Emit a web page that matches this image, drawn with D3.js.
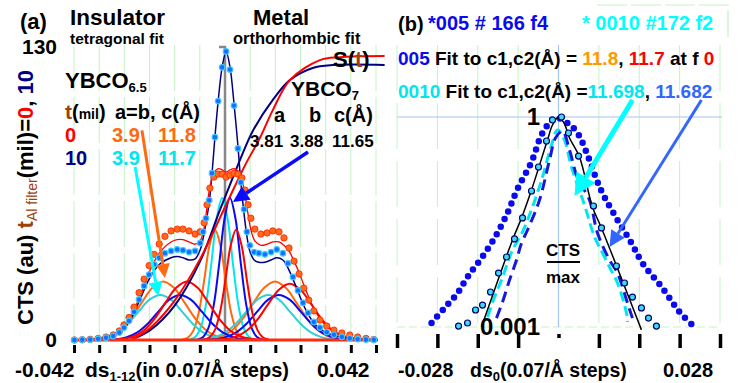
<!DOCTYPE html>
<html><head><meta charset="utf-8">
<script src="https://cdn.jsdelivr.net/npm/d3@7"></script>
<style>html,body{margin:0;padding:0;background:#fff;} svg{display:block;}</style>
</head><body>
<svg id="c" width="739" height="383"></svg>
<script>
// ---------------- DATA: panel (a) ----------------
const xTicksA = [-0.042,-0.035,-0.028,-0.021,-0.014,-0.007,0,0.007,0.014,0.021,0.028,0.035,0.042];
const yTickLabelsA = [0,130];
// measured points, t = 0 mil (red/orange markers)
const dotsT0 = [[-0.0419,0],[-0.0397,0.1],[-0.0375,0.3],[-0.0353,0.7],[-0.0331,1.3],[-0.0311,2.2],[-0.0294,4],[-0.0281,6.7],[-0.0267,10],[-0.0253,14.6],[-0.0239,21],[-0.0225,27],[-0.0211,33],[-0.0197,38],[-0.0183,42.6],[-0.0167,46],[-0.0150,48.4],[-0.0133,49.2],[-0.0117,49.2],[-0.0100,48.4],[-0.0083,47],[-0.0069,48],[-0.0058,52],[-0.0050,60],[-0.0042,67.4],[-0.0031,72.3],[-0.0019,73.6],[-0.0008,73.6],[0.0003,72.3],[0.0014,73.2],[0.0025,74],[0.0036,73.6],[0.0047,71.9],[0.0056,66.5],[0.0064,60],[0.0072,54],[0.0083,49.2],[0.0100,47],[0.0117,47.5],[0.0133,48.4],[0.0150,48],[0.0164,45.3],[0.0178,40.8],[0.0192,35],[0.0206,29.3],[0.0219,23],[0.0233,17.7],[0.0247,12.9],[0.0264,8.9],[0.0283,6.2],[0.0303,4.4],[0.0325,3.1],[0.0347,2.2],[0.0369,1.3],[0.0392,0.7],[0.0414,0.2]];
const fitT0 = [[-0.0419,0],[-0.0375,0.4],[-0.0331,1.5],[-0.0294,4],[-0.0267,9],[-0.0239,18.5],[-0.0211,30],[-0.0183,38.5],[-0.0150,43.5],[-0.0133,44.5],[-0.0117,44.5],[-0.0100,43.5],[-0.0083,42.5],[-0.0069,44],[-0.0058,50],[-0.0050,59],[-0.0042,68],[-0.0031,74],[-0.0019,76],[-0.0008,75.5],[0.0003,74.5],[0.0014,75.5],[0.0025,76],[0.0036,75],[0.0047,71],[0.0056,64],[0.0064,56],[0.0072,49],[0.0083,44],[0.0100,42],[0.0117,42.5],[0.0133,43.5],[0.0150,43.5],[0.0164,42],[0.0178,39.5],[0.0192,35],[0.0206,30],[0.0219,24.5],[0.0233,19],[0.0247,14],[0.0264,9.5],[0.0283,6],[0.0303,3.8],[0.0325,2.2],[0.0369,0.7],[0.0414,0.1]];
// measured points, t = 10 mil (blue markers)
const dotsT10 = [[-0.0419,0],[-0.0397,0.1],[-0.0375,0.2],[-0.0353,0.5],[-0.0331,1.0],[-0.0311,1.8],[-0.0294,3.3],[-0.0281,5.5],[-0.0267,8.5],[-0.0253,12.5],[-0.0239,18],[-0.0225,24],[-0.0211,29],[-0.0197,33.5],[-0.0183,36.5],[-0.0167,38.5],[-0.0150,39.5],[-0.0133,40.2],[-0.0117,39.8],[-0.0100,39],[-0.0083,39.5],[-0.0069,43],[-0.0061,48],[-0.0053,54],[-0.0044,62],[-0.0036,74],[-0.0028,90],[-0.0019,106],[-0.0008,121],[0.0003,128],[0.0014,120],[0.0025,104],[0.0036,85],[0.0044,70],[0.0053,58],[0.0061,48],[0.0069,42],[0.0081,39],[0.0094,38.5],[0.0111,38],[0.0128,39],[0.0144,40.2],[0.0161,38.5],[0.0175,34],[0.0189,28],[0.0203,22],[0.0217,16.5],[0.0231,12],[0.0247,8],[0.0264,5.5],[0.0283,3.5],[0.0303,2.3],[0.0325,1.4],[0.0347,0.8],[0.0369,0.4],[0.0392,0.2],[0.0414,0.1]];
const fitT10 = [[-0.0419,0],[-0.0375,0.2],[-0.0331,1.0],[-0.0294,3.3],[-0.0267,8],[-0.0239,17],[-0.0211,27],[-0.0183,33.5],[-0.0150,36.5],[-0.0133,37],[-0.0117,36.5],[-0.0100,35.5],[-0.0083,36],[-0.0069,40],[-0.0061,45],[-0.0053,52],[-0.0044,61],[-0.0036,74],[-0.0028,90],[-0.0019,106],[-0.0008,121],[0.0003,128],[0.0014,121],[0.0025,105],[0.0036,86],[0.0044,70],[0.0053,56],[0.0061,46],[0.0069,39.5],[0.0081,35.5],[0.0094,34.5],[0.0111,34.5],[0.0128,35.5],[0.0144,36.5],[0.0161,35.5],[0.0175,32],[0.0189,27],[0.0203,21.5],[0.0217,16],[0.0231,11.5],[0.0247,7.5],[0.0264,5],[0.0283,3.2],[0.0325,1.2],[0.0369,0.3],[0.0414,0.1]];
// S(t) curves
const sT0 = [[-0.0264,0],[-0.0244,1.5],[-0.0208,5.3],[-0.0139,17.7],[-0.0069,36],[0.0006,61],[0.0056,77.6],[0.0097,89.6],[0.0133,102],[0.0181,115.4],[0.0264,124.2],[0.0319,125.5],[0.0444,126]];
const sT10 = [[-0.0264,0],[-0.0208,4.4],[-0.0139,15.5],[-0.0069,35],[-0.0014,57.7],[0.0061,87.2],[0.0078,93],[0.0133,106.5],[0.0181,115.4],[0.0244,120.7],[0.0300,122],[0.0444,122]];
// fit components: tetragonal (orange t=0, cyan t=10), orthorhombic (red t=0, blue t=10)
const orangeL = [[-0.0382,0.1],[-0.0352,0.44],[-0.0322,1.53],[-0.0292,4.24],[-0.0262,9.36],[-0.0232,16.5],[-0.0202,23.2],[-0.0172,26],[-0.0142,23.2],[-0.0112,16.5],[-0.0082,9.36],[-0.0052,4.24],[-0.0022,1.53],[0.0008,0.44],[0.0038,0.1]];
const orangeC = [[-0.0118,0.19],[-0.0103,1.03],[-0.0088,4.15],[-0.0073,12.2],[-0.0058,26.4],[-0.0043,42],[-0.0028,49],[-0.0013,42],[0.0002,26.4],[0.0017,12.2],[0.0032,4.15],[0.0047,1.03],[0.0062,0.19]];
const orangeR = [[-0.0071,0.1],[-0.0041,0.44],[-0.0011,1.53],[0.0019,4.24],[0.0049,9.36],[0.0079,16.5],[0.0109,23.2],[0.0139,26],[0.0169,23.2],[0.0199,16.5],[0.0229,9.36],[0.0259,4.24],[0.0289,1.53],[0.0319,0.44],[0.0349,0.1]];
const redL = [[-0.0316,0.1],[-0.0286,0.44],[-0.0256,1.53],[-0.0226,4.24],[-0.0196,9.36],[-0.0166,16.5],[-0.0136,23.2],[-0.0106,26],[-0.0076,23.2],[-0.0046,16.5],[-0.0016,9.36],[0.0014,4.24],[0.0044,1.53],[0.0074,0.44],[0.0104,0.1]];
const redC = [[-0.0059,0.19],[-0.0044,1.03],[-0.0029,4.15],[-0.0014,12.2],[0.0001,26.4],[0.0016,42],[0.0031,49],[0.0046,42],[0.0061,26.4],[0.0076,12.2],[0.0091,4.15],[0.0106,1.03],[0.0121,0.19]];
const redR = [[-0.003,0.1],[0,0.42],[0.003,1.47],[0.006,4.08],[0.009,9],[0.012,15.9],[0.015,22.3],[0.018,25],[0.021,22.3],[0.024,15.9],[0.027,9],[0.030,4.08],[0.033,1.47],[0.036,0.42],[0.039,0.1]];
const cyanL = [[-0.039,0.08],[-0.036,0.34],[-0.033,1.18],[-0.030,3.26],[-0.027,7.2],[-0.024,12.7],[-0.021,17.9],[-0.018,20],[-0.015,17.9],[-0.012,12.7],[-0.009,7.2],[-0.006,3.26],[-0.003,1.18],[0,0.34],[0.003,0.08]];
const cyanC = [[-0.0098,0.25],[-0.0083,1.33],[-0.0068,5.34],[-0.0053,15.7],[-0.0038,34],[-0.0023,54],[-0.0008,63],[0.0007,54],[0.0022,34],[0.0037,15.7],[0.0052,5.34],[0.0067,1.33],[0.0082,0.25]];
const cyanR = [[-0.009,0.08],[-0.006,0.34],[-0.003,1.18],[0,3.26],[0.003,7.2],[0.006,12.7],[0.009,17.9],[0.012,20],[0.015,17.9],[0.018,12.7],[0.021,7.2],[0.024,3.26],[0.027,1.18],[0.030,0.34],[0.033,0.08]];
const blueL = [[-0.0335,0.08],[-0.0305,0.34],[-0.0275,1.18],[-0.0245,3.26],[-0.0215,7.2],[-0.0185,12.7],[-0.0155,17.9],[-0.0125,20],[-0.0095,17.9],[-0.0065,12.7],[-0.0035,7.2],[-0.0005,3.26],[0.0025,1.18],[0.0055,0.34],[0.0085,0.08]];
const blueC = [[-0.0076,0.25],[-0.0061,1.33],[-0.0046,5.34],[-0.0031,15.7],[-0.0016,34],[-0.0001,54],[0.0014,63],[0.0029,54],[0.0044,34],[0.0059,15.7],[0.0074,5.34],[0.0089,1.33],[0.0104,0.25]];
const blueR = [[-0.006,0.08],[-0.003,0.34],[0,1.18],[0.003,3.26],[0.006,7.2],[0.009,12.7],[0.012,17.9],[0.015,20],[0.018,17.9],[0.021,12.7],[0.024,7.2],[0.027,3.26],[0.030,1.18],[0.033,0.34],[0.036,0.08]];

// ---------------- DATA: panel (b) ----------------
const xTicksB = [-0.028,-0.021,-0.014,-0.007,0,0.007,0.014,0.021,0.028];
const yTickLabelsB = [1,0.001];
const fitBlack = [[-0.01335,0.001],[-0.00797,0.0175],[-0.00641,0.0361],[-0.00468,0.0906],[-0.00191,0.469],[-0.00104,0.769],[0,1],[0.00104,0.794],[0.00191,0.5],[0.00364,0.268],[0.00589,0.0518],[0.00745,0.026],[0.01438,0.00091]];
const circles005 = [[-0.01733,0.00103],[-0.01577,0.00114],[-0.01438,0.00175],[-0.01317,0.00206],[-0.01179,0.00316],[-0.0104,0.0059],[-0.00901,0.01],[-0.00763,0.0181],[-0.00624,0.0361],[-0.00468,0.0877],[-0.00347,0.193],[-0.00208,0.454],[-0.00104,0.906],[0.00052,1.0],[0.00173,0.591],[0.00347,0.277],[0.00607,0.0535],[0.00745,0.026],[0.01005,0.00744],[0.01144,0.00425],[0.01282,0.00268],[0.01438,0.00187],[0.0156,0.00134],[0.01698,0.00103]];
const dotted005 = [[-0.02201,0.00114],[-0.01976,0.00187],[-0.0175,0.00306],[-0.01577,0.00518],[-0.01335,0.00968],[-0.01109,0.0187],[-0.00901,0.0398],[-0.00711,0.0936],[-0.00468,0.228],[-0.00277,0.591],[-0.00052,0.968],[0.00156,0.821],[0.00329,0.591],[0.00503,0.286],[0.00676,0.118],[0.00797,0.072],[0.01023,0.0338],[0.01265,0.0158],[0.01456,0.0082],[0.01802,0.0036],[0.02097,0.00164],[0.02305,0.0011]];
const dashCyan = [[-0.0123,0.00139],[-0.01109,0.00268],[-0.00988,0.00469],[-0.00884,0.0082],[-0.00797,0.0126],[-0.00624,0.0228],[-0.00451,0.0518],[-0.00277,0.139],[-0.00121,0.398],[-0.00017,0.652],[0.00104,0.469],[0.00225,0.193],[0.00451,0.0553],[0.00624,0.0193],[0.00711,0.0139],[0.00884,0.0072],[0.01023,0.00425],[0.01179,0.00158],[0.01196,0.00118]];
const dashBlue = [[-0.01075,0.00134],[-0.0097,0.00228],[-0.00849,0.00469],[-0.00728,0.00906],[-0.00641,0.0158],[-0.00537,0.0243],[-0.00329,0.0652],[-0.00156,0.243],[-0.00052,0.5],[0.00069,0.631],[0.00191,0.338],[0.00329,0.135],[0.00537,0.0652],[0.00676,0.022],[0.00884,0.00906],[0.01023,0.0059],[0.01196,0.0022],[0.01282,0.00134]];

// ---------------- DRAWING ----------------
const FONT = "'Liberation Sans', Arial, Helvetica, sans-serif";
const C = {orange:"#ff6a10", red:"#ff0000", cyan:"#00e6ee", cyanLine:"#30cfd6", blue:"#0a0af0", navy:"#000080", brown:"#a0400a", grid:"#c4f2c4", lblue:"#a4c6f2", royal:"#3366ff", gold:"#ff9900"};
const svg = d3.select("#c");
const xA = d3.scaleLinear().domain([-0.042,0.042]).range([74,376]);
const yA = d3.scaleLinear().domain([0,130]).range([340,47]);
const xB = d3.scaleLinear().domain([-0.028,0.028]).range([397,720]);
const yB = d3.scaleLog().domain([0.001,1]).range([327,117]);
const lineA = d3.line().x(d=>xA(d[0])).y(d=>yA(d[1])).curve(d3.curveCatmullRom.alpha(0.5));
const lineB = d3.line().x(d=>xB(d[0])).y(d=>yB(d[1])).curve(d3.curveCatmullRom.alpha(0.5));

function rich(x, y, parts, opt={}) {
  const t = svg.append("text").attr("x",x).attr("y",y).attr("font-family",FONT)
    .attr("font-weight","bold").attr("text-anchor",opt.anchor||"start");
  if (opt.transform) t.attr("transform",opt.transform);
  parts.forEach(p=>{
    const s=t.append("tspan").text(p.t).attr("fill",p.c||"#000").attr("font-size",p.s||20);
    if(p.dy) s.attr("dy",p.dy);
    if(p.w) s.attr("font-weight",p.w);
  });
  return t;
}
function arrow(x1,y1,x2,y2,color,w,hl,hw){
  const a=Math.atan2(y2-y1,x2-x1);
  const bx=x2-hl*Math.cos(a), by=y2-hl*Math.sin(a);
  svg.append("line").attr("x1",x1).attr("y1",y1).attr("x2",bx).attr("y2",by).attr("stroke",color).attr("stroke-width",w);
  const px=-Math.sin(a)*hw, py=Math.cos(a)*hw;
  svg.append("path").attr("d",`M${x2},${y2}L${bx+px},${by+py}L${bx-px},${by-py}Z`).attr("fill",color);
}

// ---- panel (a) grid ----
xTicksA.filter(t=>t!==0).forEach(t=>{
  svg.append("line").attr("x1",xA(t)).attr("x2",xA(t)).attr("y1",yA(130)-2).attr("y2",yA(0))
    .attr("stroke",C.grid).attr("stroke-width",1).attr("stroke-dasharray","46,6");
});
svg.append("path").attr("d",`M${xA(0)-6},${yA(130)}H${xA(0)}V${yA(0)}`).attr("fill","none")
  .attr("stroke","#888").attr("stroke-width",2.5);

// components
const comps = [[orangeL,C.orange],[orangeC,C.orange],[orangeR,C.orange],[cyanL,C.cyanLine],[cyanC,C.cyan],[cyanR,C.cyanLine],
               [blueL,C.blue],[blueC,C.blue],[blueR,C.blue],[redL,C.red],[redC,C.red],[redR,C.red]];
comps.forEach(([d,c])=>svg.append("path").attr("d",lineA(d)).attr("fill","none").attr("stroke",c).attr("stroke-width",2));
// S(t)
svg.append("path").attr("d",lineA(sT10)).attr("fill","none").attr("stroke",C.navy).attr("stroke-width",2);
svg.append("path").attr("d",lineA(sT0)).attr("fill","none").attr("stroke",C.red).attr("stroke-width",2);
// totals
svg.append("path").attr("d",lineA(fitT10)).attr("fill","none").attr("stroke",C.navy).attr("stroke-width",1.5);
svg.append("path").attr("d",lineA(fitT0)).attr("fill","none").attr("stroke",C.red).attr("stroke-width",1.3);
// baseline
svg.append("line").attr("x1",xA(-0.042)).attr("x2",xA(0.042)+2).attr("y1",yA(0)).attr("y2",yA(0)).attr("stroke","#ff2a10").attr("stroke-width",3);
// dots
svg.append("g").selectAll("circle").data(dotsT0).join("circle").attr("cx",d=>xA(d[0])).attr("cy",d=>yA(d[1]))
  .attr("r",3.2).attr("fill","#ff6a1a").attr("stroke","#ff2000").attr("stroke-width",0.8);
svg.append("g").selectAll("circle").data(dotsT10).join("circle").attr("cx",d=>xA(d[0])).attr("cy",d=>yA(d[1]))
  .attr("r",2.8).attr("fill","#1a6cff").attr("stroke","#3cc8ff").attr("stroke-width",1.2);

// axes (a)
const axA = svg.append("g").attr("transform","translate(0,345)").call(d3.axisBottom(xA).tickValues(xTicksA).tickSize(8).tickFormat(""));
axA.select(".domain").remove();
axA.selectAll(".tick line").attr("stroke","#000").attr("stroke-width",3);
const ayA = svg.append("g").attr("transform","translate(57,0)").call(d3.axisLeft(yA).tickValues(yTickLabelsA).tickSize(0).tickPadding(0).tickFormat(d3.format("d")));
ayA.select(".domain").remove();
ayA.selectAll("text").attr("font-family",FONT).attr("font-weight","bold").attr("font-size",21).attr("fill","#000");

// arrows (a)
arrow(xA(-0.0231),yA(93),xA(-0.0167),yA(27.5),C.orange,3,14,7);
arrow(xA(-0.0250),yA(76.8),xA(-0.0186),yA(19.5),"#00ffff",3,14,7);
arrow(xA(0.0231),yA(83.4),xA(0.0022),yA(61.2),"#0a0aff",3.5,16,8);

// texts (a)
rich(20,29,[{t:"(a)",s:22}]);
rich(70,25,[{t:"Insulator",s:22.5}]);
rich(70,44,[{t:"tetragonal fit",s:15.5}]);
rich(253,25,[{t:"Metal",s:22}]);
rich(233,44,[{t:"orthorhombic fit",s:16.5}]);
rich(65,88,[{t:"YBCO",s:22},{t:"6.5",s:13,dy:4}]);
rich(65,119,[{t:"t",c:C.brown,s:21},{t:"(",s:20},{t:"mil",s:14},{t:")",s:20}]);
rich(115,119,[{t:"a=b, c(Å)",s:20}]);
rich(65,142,[{t:"0",c:C.red,s:20}]);
rich(112,142,[{t:"3.9",c:C.orange,s:20}]);
rich(158,142,[{t:"11.8",c:C.orange,s:20}]);
rich(65,165,[{t:"10",c:C.navy,s:20}]);
rich(112,165,[{t:"3.9",c:C.cyan,s:20}]);
rich(158,165,[{t:"11.7",c:C.cyan,s:20}]);
rich(291,96,[{t:"YBCO",s:21},{t:"7",s:13,dy:4}]);
rich(274,122,[{t:"a",s:20}]);
rich(309,122,[{t:"b",s:20}]);
rich(334,122,[{t:"c(Å)",s:20}]);
rich(250,147,[{t:"3.81",s:17}]);
rich(290,147,[{t:"3.88",s:17}]);
rich(332,147,[{t:"11.65",s:17}]);
rich(333,67,[{t:"S(",s:22},{t:"t",c:C.brown,s:22},{t:")",s:22}]);
rich(0,0,[{t:"CTS (au) ",s:22},{t:"t",c:C.brown,s:22},{t:"Al filter",c:C.brown,s:14,w:"normal",dy:4},
          {t:"(mil)=",s:22,dy:-4},{t:"0",c:C.red,s:22},{t:",",s:22},{t:" 10",c:C.navy,s:22}],{transform:"translate(33,325) rotate(-90)"});
rich(15,377,[{t:"-0.042",s:21}]);
rich(85,377,[{t:"ds",s:21},{t:"1-12",s:13,dy:4},{t:"(in 0.07/Å steps)",s:20,dy:-4}]);
rich(317,377,[{t:"0.042",s:21}]);

// ---- panel (b) grid ----
xTicksB.filter(t=>t!==0).forEach(t=>{
  svg.append("line").attr("x1",xB(t)).attr("x2",xB(t)).attr("y1",45).attr("y2",yB(0.001))
    .attr("stroke",C.grid).attr("stroke-width",1).attr("stroke-dasharray","46,12");
});
svg.append("line").attr("x1",xB(-0.028)).attr("x2",xB(0.028)+2).attr("y1",yB(1)).attr("y2",yB(1)).attr("stroke",C.lblue).attr("stroke-width",1.2);
svg.append("line").attr("x1",xB(-0.028)).attr("x2",xB(0.028)).attr("y1",yB(0.001)).attr("y2",yB(0.001)).attr("stroke",C.grid).attr("stroke-width",1.2).attr("stroke-dasharray","8,4");
svg.append("line").attr("x1",xB(0)).attr("x2",xB(0)).attr("y1",45).attr("y2",yB(0.001)).attr("stroke",C.lblue).attr("stroke-width",1.2);
svg.append("path").attr("d","M597,5H728V37").attr("fill","none").attr("stroke",C.grid).attr("stroke-width",1.2).attr("stroke-dasharray","30,4");

// curves (b)
svg.append("path").attr("d",lineB(dotted005)).attr("fill","none").attr("stroke","#0a0aee").attr("stroke-width",6.5)
  .attr("stroke-dasharray","0,8.5").attr("stroke-linecap","round");
svg.append("path").attr("d",lineB(dashCyan)).attr("fill","none").attr("stroke",C.cyan).attr("stroke-width",3).attr("stroke-dasharray","10,5");
svg.append("path").attr("d",lineB(dashBlue)).attr("fill","none").attr("stroke","#1818d8").attr("stroke-width",3).attr("stroke-dasharray","11,6");
svg.append("path").attr("d",lineB(fitBlack)).attr("fill","none").attr("stroke","#000").attr("stroke-width",1.5);
svg.append("g").selectAll("circle").data(circles005).join("circle").attr("cx",d=>xB(d[0])).attr("cy",d=>yB(d[1]))
  .attr("r",3).attr("fill","#3cdcf0").attr("stroke","#000070").attr("stroke-width",1.2);

// axes (b)
const axB = svg.append("g").attr("transform","translate(0,334)").call(d3.axisBottom(xB).tickValues(xTicksB).tickSize(14).tickFormat(""));
axB.select(".domain").remove();
axB.selectAll(".tick line").attr("stroke","#000").attr("stroke-width",3.5).attr("y2",d=>d===0?4:14);
const ayB = svg.append("g").attr("transform","translate(540,0)").call(d3.axisLeft(yB).tickValues(yTickLabelsB).tickSize(0).tickPadding(0).tickFormat(d=>d===1?"1":"0.001"));
ayB.select(".domain").remove();
ayB.selectAll("text").attr("font-family",FONT).attr("font-weight","bold").attr("font-size",24).attr("fill","#000");

// arrows (b)
arrow(xB(0.01283),yB(1.75),xB(0.00277),yB(0.0743),"#00ffff",5,22,11);
arrow(xB(0.02478),yB(1.75),xB(0.00884),yB(0.0139),C.royal,3,16,8);

// texts (b)
rich(398,31,[{t:"(b)",s:20}]);
rich(428,30,[{t:"*005 # 166 f4",c:"#0a0aee",s:20}]);
rich(582,30,[{t:"* 0010 #172 f2",c:"#00ffff",s:20}]);
rich(398,65,[{t:"005",c:"#0a0aee",s:19},{t:" Fit to c1,c2(Å) = ",s:19},{t:"11.8",c:C.gold,s:19},{t:", ",s:19},
             {t:"11.7",c:C.red,s:19},{t:" at f ",s:19},{t:"0",c:C.red,s:19}]);
rich(398,98,[{t:"0010",c:C.cyan,s:19},{t:" Fit to c1,c2(Å) =",s:19},{t:"11.698",c:C.cyan,s:19},{t:", ",s:19},{t:"11.682",c:C.royal,s:19}]);
rich(563,256,[{t:"CTS",s:17}],{anchor:"middle"});
svg.append("line").attr("x1",547).attr("x2",580).attr("y1",262).attr("y2",262).attr("stroke","#000").attr("stroke-width",2);
rich(563,283,[{t:"max",s:17}],{anchor:"middle"});
rich(398,377,[{t:"-0.028",s:19.5}]);
rich(470,377,[{t:"ds",s:19.5},{t:"0",s:13,dy:4},{t:"(0.07/Å steps)",s:19.5,dy:-4}]);
rich(663,377,[{t:"0.028",s:20}]);
</script></body></html>
